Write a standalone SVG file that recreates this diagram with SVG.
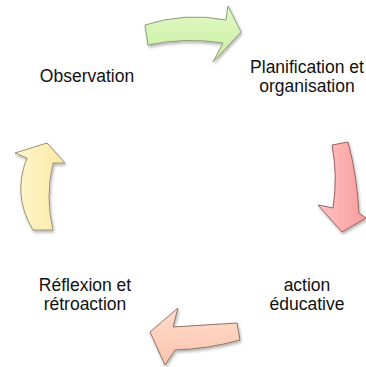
<svg xmlns="http://www.w3.org/2000/svg" width="366" height="367" viewBox="0 0 366 367">
<style>
.lbl{font-family:"Liberation Sans",Arial,sans-serif;font-size:17.5px;fill:#111;text-anchor:middle}
.arr{stroke-width:1;stroke-linejoin:round;filter:url(#sh)}
</style>
<defs>
<filter id="sh" x="-20%" y="-20%" width="140%" height="140%">
<feDropShadow dx="1" dy="2" stdDeviation="1.6" flood-color="#000" flood-opacity="0.3"/>
</filter>
<linearGradient id="gG" x1="0" y1="0" x2="0" y2="1"><stop offset="0" stop-color="#e4f9c8"/><stop offset="1" stop-color="#c6ee9e"/></linearGradient>
<linearGradient id="gR" x1="0" y1="0" x2="1" y2="0"><stop offset="0" stop-color="#ffc4c4"/><stop offset="1" stop-color="#f99c9c"/></linearGradient>
<linearGradient id="gP" x1="0" y1="0" x2="0" y2="1"><stop offset="0" stop-color="#ffdccc"/><stop offset="1" stop-color="#fcc4ae"/></linearGradient>
<linearGradient id="gY" x1="0" y1="0" x2="1" y2="0"><stop offset="0" stop-color="#fff6cc"/><stop offset="1" stop-color="#fbe8a4"/></linearGradient>
</defs>
<g id="connectors">
<path id="arrow-green" class="arr" fill="url(#gG)" stroke="#8c9c7a" d="M145,25 Q185,12 226,20 L228,6 L241,32 L213,62 L223,43 Q185,37 148,45 Z"/>
<path id="arrow-red" class="arr" fill="url(#gR)" stroke="#9a6464" d="M332,145 L348,142 Q357,175 359,213 L366,218 L342,232 L318,205 L333,208 Q338,175 332,145 Z"/>
<path id="arrow-salmon" class="arr" fill="url(#gP)" stroke="#8c7464" d="M237,323 Q205,325 173,327 L178,308 L150,332 L165,365 L175,350 Q208,349 240,340 Z"/>
<path id="arrow-yellow" class="arr" fill="url(#gY)" stroke="#9a9274" d="M47,143 L65,163 L53,163 Q45,197 53,230 L33,230 Q12,195 27,158 L15,153 Z"/>
</g>
<g id="node-observation"><text class="lbl" x="87" y="82">Observation</text></g>
<g id="node-planification"><text class="lbl" x="307" y="73">Planification et</text><text class="lbl" x="307" y="92">organisation</text></g>
<g id="node-action"><text class="lbl" x="307" y="291">action</text><text class="lbl" x="307" y="310">éducative</text></g>
<g id="node-reflexion"><text class="lbl" x="85" y="291">Réflexion et</text><text class="lbl" x="85" y="310">rétroaction</text></g>
</svg>
